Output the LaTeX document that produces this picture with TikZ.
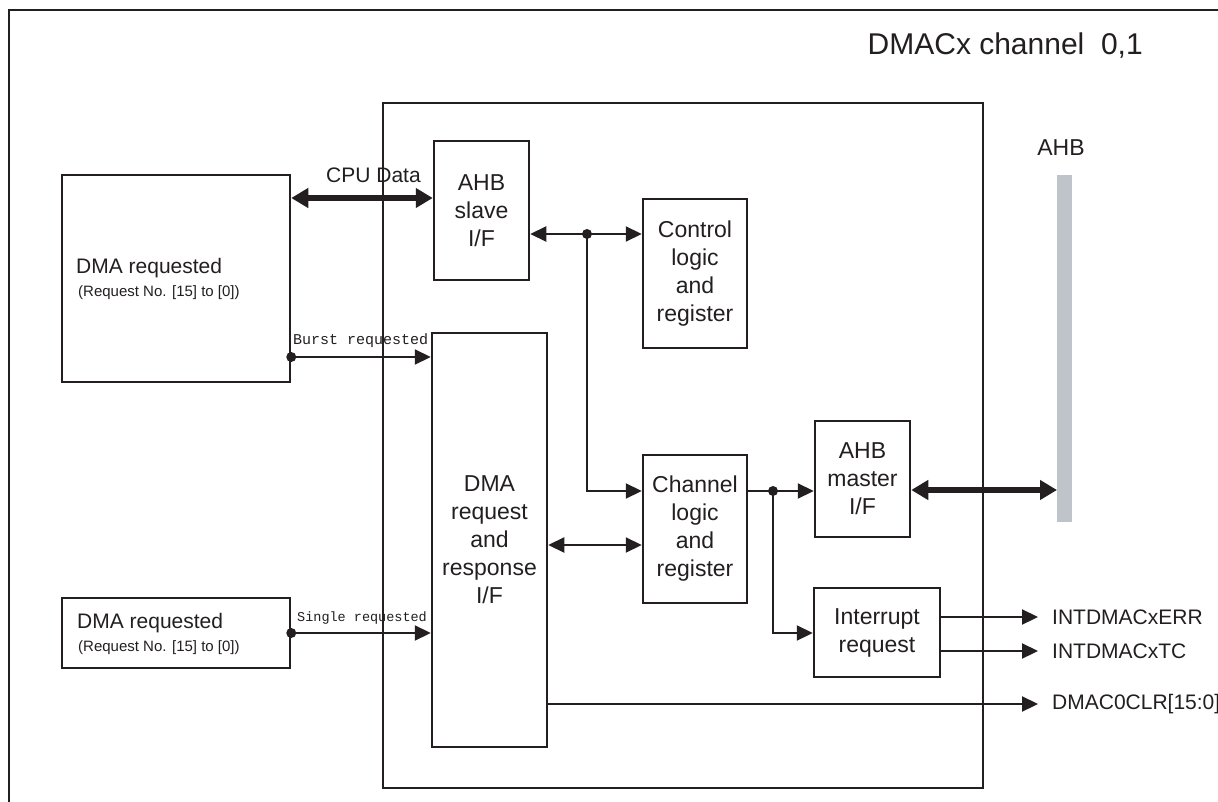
\documentclass[tikz,border=0pt]{standalone}
\usepackage{fontspec}
\setmainfont{Liberation Sans}
\newfontfamily\monof{Liberation Mono}
\usetikzlibrary{arrows.meta,calc}
\definecolor{ink}{HTML}{231F20}
\definecolor{busgray}{HTML}{BFC4CA}
\begin{document}
\begin{tikzpicture}[x=1pt,y=-1pt,
  box/.style={draw=ink, line width=2.5pt, inner sep=0pt, align=center, text=ink,
    font=\fontsize{23}{28}\selectfont},
  conn/.style={draw=ink, line width=2.2pt},
  arr/.style={conn, -{Triangle[length=16pt 0 0,width=15pt 0 0]}},
  barr/.style={conn, {Triangle[length=16pt 0 0,width=15pt 0 0]}-{Triangle[length=16pt 0 0,width=15pt 0 0]}},
  fat/.style={draw=ink, line width=6.5pt, {Triangle[length=17pt 0 0,width=19pt 0 0]}-{Triangle[length=17pt 0 0,width=19pt 0 0]}},
  lbl/.style={text=ink, inner sep=0pt, font=\fontsize{21}{25}\selectfont},
  small/.style={text=ink, inner sep=0pt, font=\fontsize{15}{18}\selectfont},
  dot/.style={fill=ink}
]
\useasboundingbox (0,0) rectangle (1218,802);
\fill[white] (0,0) rectangle (1218,802);

% outer frame
\draw[ink, line width=2.2pt] (9,830) -- (9,10) -- (1240,10);
\node[lbl, anchor=base east, font=\fontsize{30}{36}\selectfont] (title) at (1143,55) {DMACx channel\ \ 0,1};

% inner frame
\node[draw=ink, line width=1.6pt, inner sep=0pt, minimum width=600pt, minimum height=685pt] (inner) at (683,445.5) {};

% AHB bus
\fill[busgray] (1057,175) rectangle (1072,522);
\coordinate (bus) at (1057,490);
\node[lbl, anchor=base, font=\fontsize{23}{28}\selectfont] (ahblbl) at (1061,156) {AHB};

% left request boxes
\node[box, minimum width=228pt, minimum height=207pt] (req1) at (176,278.5) {};
\node[lbl, anchor=base west] (req1a) at (76,274) {DMA requested};
\node[small, anchor=base west] (req1b) at (78,297) {(Request No. [15] to [0])};

\node[box, minimum width=228pt, minimum height=70pt] (req2) at (176,633) {};
\node[lbl, anchor=base west] (req2a) at (77,628) {DMA requested};
\node[small, anchor=base west] (req2b) at (78,651) {(Request No. [15] to [0])};

% inner blocks
\node[box, minimum width=95pt, minimum height=139pt] (slave) at (481.5,210.5) {AHB\\slave\\I/F};
\node[box, minimum width=104pt, minimum height=149pt] (control) at (695,273.5) {Control\\logic\\and\\register};
\node[box, minimum width=115pt, minimum height=414pt] (dmareq) at (489.5,540) {DMA\\request\\and\\response\\I/F};
\node[box, minimum width=104pt, minimum height=148pt] (channel) at (695,529) {Channel\\logic\\and\\register};
\node[box, minimum width=95pt, minimum height=116pt] (master) at (862.5,479) {AHB\\master\\I/F};
\node[box, minimum width=126pt, minimum height=89pt] (intr) at (877,632.5) {Interrupt\\request};

% CPU data
\coordinate (yc) at (0,198);
\draw[fat] (req1.east |- yc) -- (slave.west |- yc);
\node[lbl, anchor=base west] (cpulbl) at (326,183) {CPU Data};

% burst / single
\coordinate (yb) at (0,357);
\coordinate (db) at (req1.east |- yb);
\fill[dot] (db) circle (5pt);
\draw[arr] (db) -- (dmareq.west |- yb);
\node[small, anchor=base west, font=\monof\fontsize{15}{18}\selectfont] (burstlbl) at (293,344) {Burst requested};

\coordinate (ys) at (0,633);
\coordinate (ds) at (req2.east |- ys);
\fill[dot] (ds) circle (5pt);
\draw[arr] (ds) -- (dmareq.west |- ys);
\node[small, anchor=base west, font=\monof\fontsize{13.5}{16}\selectfont] (singlelbl) at (297,621) {Single requested};

% slave <-> control, branch to channel
\coordinate (ya) at (0,234);
\coordinate (d1) at (587,234);
\draw[barr] (slave.east |- ya) -- (control.west |- ya);
\fill[dot] (d1) circle (5pt);
\coordinate (yh) at (0,491);
\draw[arr] (d1) |- (channel.west |- yh);

% dmareq <-> channel
\coordinate (yd) at (0,545);
\draw[barr] (dmareq.east |- yd) -- (channel.west |- yd);

% channel -> master, branch to interrupt
\coordinate (d2) at (773,491);
\draw[conn] (channel.east |- yh) -- (d2);
\draw[arr] (d2) -- (master.west |- yh);
\fill[dot] (d2) circle (5pt);
\draw[arr] (d2) |- (intr.west |- ys);

% master <-> bus
\draw[fat] (master.east |- bus) -- (bus);

% outputs
\coordinate (ye) at (1038,617);
\coordinate (yt) at (1038,651);
\coordinate (yr) at (1038,704);
\draw[arr] (intr.east |- ye) -- (ye);
\draw[arr] (intr.east |- yt) -- (yt);
\draw[arr] (dmareq.east |- yr) -- (yr);
\node[lbl, anchor=west] (errlbl) at (1052,617) {INTDMACxERR};
\node[lbl, anchor=west] (tclbl) at (1052,651) {INTDMACxTC};
\node[lbl, anchor=west] (clrlbl) at (1052,704) {DMAC0CLR[15:0]};
\end{tikzpicture}
\end{document}
